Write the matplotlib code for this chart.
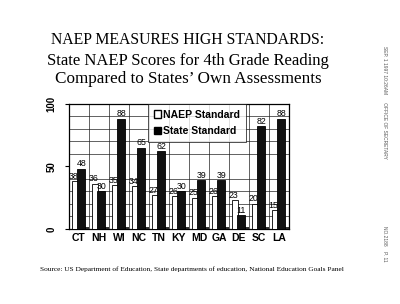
import numpy as np
import matplotlib.pyplot as plt
from matplotlib.patches import Patch

# ==== Data ====
states = ['CT', 'NH', 'WI', 'NC', 'TN', 'KY', 'MD', 'GA', 'DE', 'SC', 'LA']
naep_std = [38, 36, 35, 34, 27, 26, 25, 26, 23, 20, 15]
state_std = [48, 30, 88, 65, 62, 30, 39, 39, 11, 82, 88]
y_ticks = [0, 50, 100]

sans = ['Liberation Sans', 'DejaVu Sans']
serif = ['Liberation Serif', 'DejaVu Serif']

fig = plt.figure(figsize=(4.0, 3.04), dpi=100)
fig.patch.set_facecolor('white')

# ==== Titles ====
fig.text(0.47, 0.868, 'NAEP MEASURES HIGH STANDARDS:', ha='center', va='center',
         family=serif, fontsize=11.3)
fig.text(0.47, 0.800, 'State NAEP Scores for 4th Grade Reading', ha='center', va='center',
         family=serif, fontsize=12)
fig.text(0.47, 0.740, 'Compared to States\u2019 Own Assessments', ha='center', va='center',
         family=serif, fontsize=12.3)

# ==== Chart ====
ax = fig.add_axes([0.1725, 0.247, 0.55, 0.411])
x = np.arange(len(states))
ax.bar(x - 0.2, naep_std, width=0.28, color='white', edgecolor='black', linewidth=0.6, zorder=3)
ax.bar(x + 0.1, state_std, width=0.36, color='#111111', edgecolor='black', linewidth=0.6, zorder=3)
# floor shadow
ax.bar(x + 0.33, [1.2] * len(states), width=0.3, color='#333333', zorder=2)

for xi, v in zip(x, naep_std):
    ax.text(xi - 0.27, v + 0.5, str(v), ha='center', va='bottom', family=sans,
            fontsize=6.3, zorder=5)
for xi, v in zip(x, state_std):
    ax.text(xi + 0.12, v + 0.5, str(v), ha='center', va='bottom', family=sans,
            fontsize=6.3, zorder=5)

ax.set_xlim(-0.5, len(states) - 0.5)
ax.set_ylim(0, 100)
ax.set_yticks(y_ticks)
ax.set_yticklabels([str(t) for t in y_ticks], rotation=90, va='center', family=sans,
                   fontsize=7, fontweight='bold')
ax.set_yticks(np.arange(0, 101, 10), minor=True)
ax.set_xticks(x)
ax.set_xticklabels(states, family=sans, fontsize=7.5, fontweight='bold')
ax.set_xticks(np.arange(-0.5, len(states), 1), minor=True)
ax.tick_params(axis='x', which='both', length=0, pad=3)
ax.tick_params(axis='y', which='major', length=3, pad=6)
ax.tick_params(axis='y', which='minor', length=0)
ax.grid(True, which='minor', color='#222222', linewidth=0.5, zorder=0)
for s in ax.spines.values():
    s.set_linewidth(0.9)

# ==== Legend ====
handles = [Patch(facecolor='white', edgecolor='black', label='NAEP Standard'),
           Patch(facecolor='black', edgecolor='black', label='State Standard')]
leg = ax.legend(handles=handles, loc='upper left', bbox_to_anchor=(0.36, 1.0),
                borderaxespad=0, frameon=True, fancybox=False,
                prop={'family': sans, 'size': 7.5, 'weight': 'bold'},
                handlelength=0.7, handleheight=0.7, handletextpad=0.2,
                borderpad=0.55, labelspacing=0.6)
leg.get_frame().set_edgecolor('black')
leg.get_frame().set_linewidth(0.6)
leg.set_zorder(6)

# ==== Source and fax stamp ====
fig.text(0.1, 0.115, 'Source: US Department of Education, State departments of education, '
         'National Education Goals Panel', ha='left', va='center', family=serif, fontsize=5.3)
fig.text(0.962, 0.85, 'SEP. 1 1997 10:26AM      OFFICE OF SECRETARY', rotation=270,
         ha='center', va='top', family=sans, fontsize=3.5, color='#555555')
fig.text(0.962, 0.255, 'NO.2188    P. 11', rotation=270,
         ha='center', va='top', family=sans, fontsize=3.5, color='#555555')

fig.savefig('out.png', dpi=100)
